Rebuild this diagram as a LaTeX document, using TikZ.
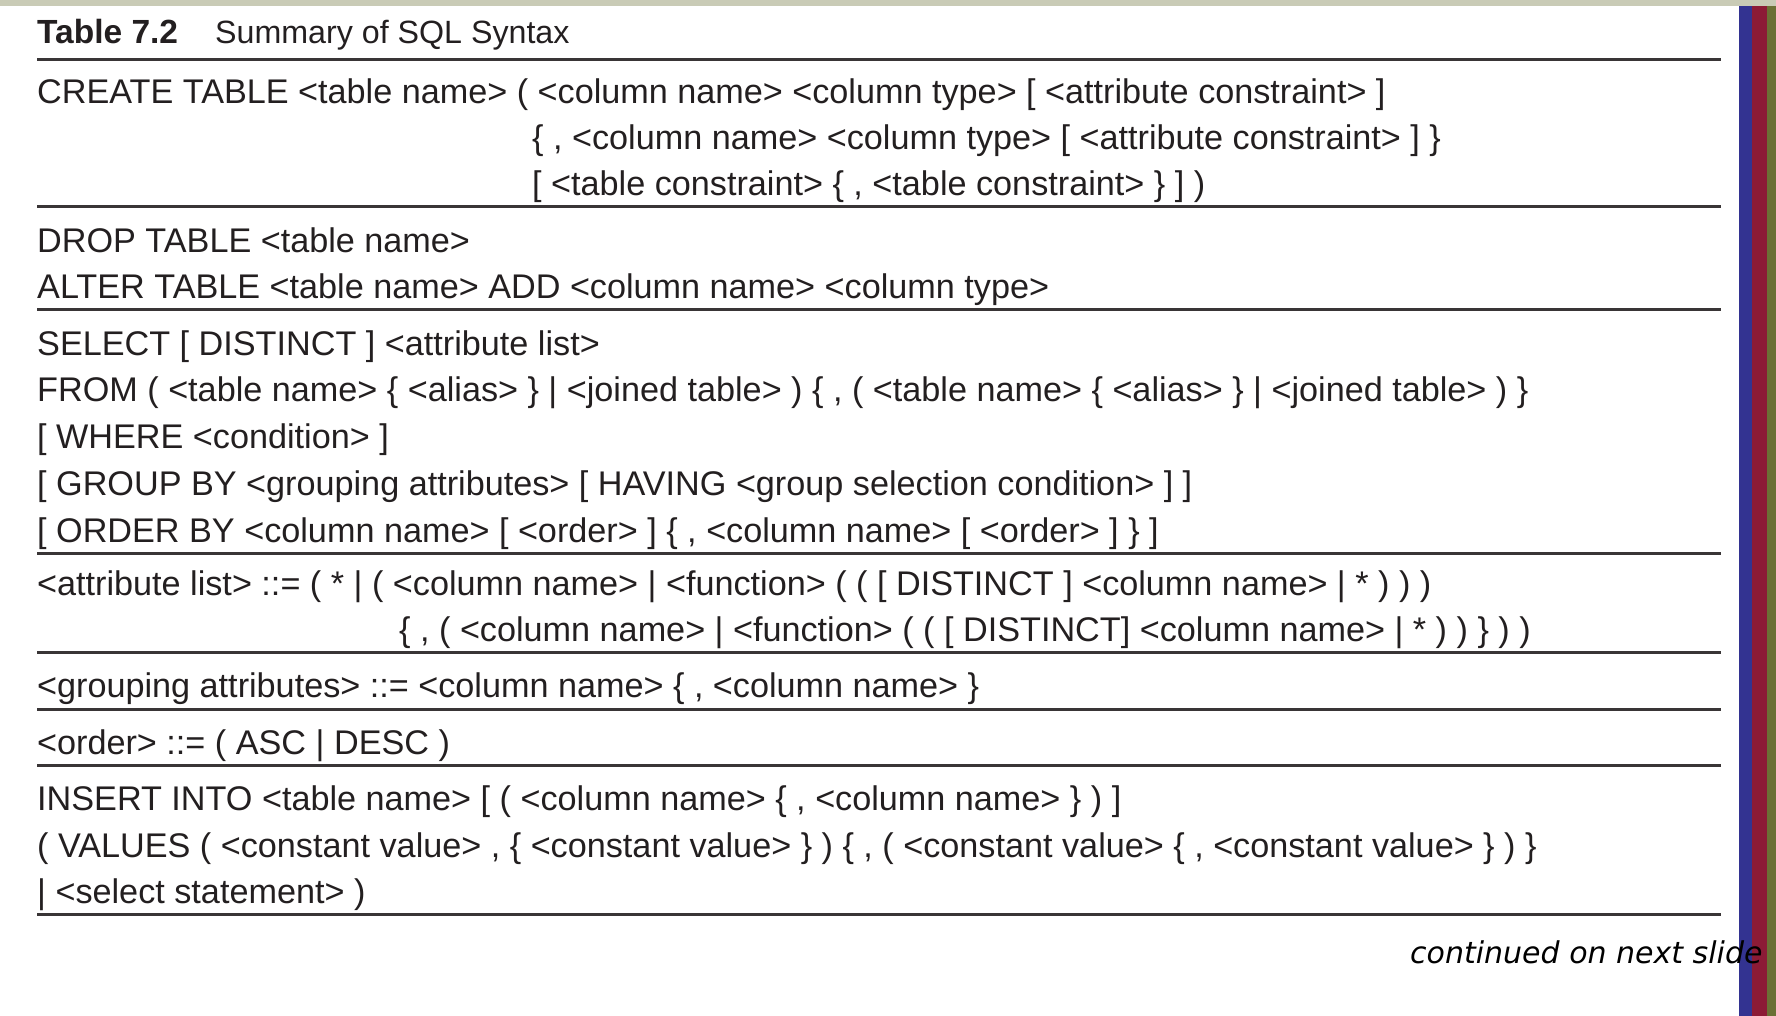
\documentclass[tikz,border=0pt]{standalone}
\usepackage{fontspec}
\setmainfont{Liberation Sans}
\newfontfamily\notefont{DejaVu Sans Oblique}
\usetikzlibrary{positioning}

\definecolor{bandgray}{HTML}{C9CBB6}
\definecolor{barblue}{HTML}{333391}
\definecolor{barred}{HTML}{8C1B36}
\definecolor{barolive}{HTML}{6B7035}
\definecolor{inkgray}{HTML}{231F20}

\begin{document}
\begin{tikzpicture}[x=1pt, y=-1pt, sqlrow/.style = {anchor=base west, inner sep=0pt, text=inkgray, font=\fontsize{34.2}{40}\selectfont}, tablerule/.style = {draw=inkgray!90, line width=3pt}]

    % slide frame
    \fill[white] (0,0) rectangle (1776,1016);
    \useasboundingbox (0,0) rectangle (1776,1016);
    \fill[bandgray] (0,0) rectangle (1776,6);
    \fill[barblue] (1739,6) rectangle (1752,1016);
    \fill[barred] (1752,6) rectangle (1767,1016);
    \fill[barolive] (1767,6) rectangle (1776,1016);

    % title
    \node[sqlrow, font=\fontsize{33.5}{38}\selectfont\bfseries] (title) at (37,44) {Table 7.2};
    \node[sqlrow, font=\fontsize{32.2}{38}\selectfont] (caption) at (215,44) {Summary of SQL Syntax};

    % rules
    \foreach \y in {60,207,309,553,652,709,765,914}
        \draw[tablerule] (37,\y) -- (1721,\y);

    % create / drop / alter
    \node[sqlrow] (create) at (37,104) {CREATE TABLE <table name> ( <column name> <column type> [ <attribute constraint> ]};
    \node[sqlrow] (createcol) at (532,150) {\{ , <column name> <column type> [ <attribute constraint> ] \}};
    \node[sqlrow] (createcons) at (532,196) {[ <table constraint> \{ , <table constraint> \} ] )};
    \node[sqlrow] (drop) at (37,252) {DROP TABLE <table name>};
    \node[sqlrow] (alter) at (37,298) {ALTER TABLE <table name> ADD <column name> <column type>};

    % select
    \node[sqlrow] (select) at (37,355) {SELECT [ DISTINCT ] <attribute list>};
    \node[sqlrow] (from) at (37,401) {FROM ( <table name> \{ <alias> \} | <joined table> ) \{ , ( <table name> \{ <alias> \} | <joined table> ) \}};
    \node[sqlrow] (where) at (37,448) {[ WHERE <condition> ]};
    \node[sqlrow] (group) at (37,495) {[ GROUP BY <grouping attributes> [ HAVING <group selection condition> ] ]};
    \node[sqlrow] (order) at (37,542) {[ ORDER BY <column name> [ <order> ] \{ , <column name> [ <order> ] \} ]};

    % grammar
    \node[sqlrow] (attr) at (37,595) {<attribute list> ::= ( * | ( <column name> | <function> ( ( [ DISTINCT ] <column name> | * ) ) )};
    \node[sqlrow] (attrmore) at (399,641) {\{ , ( <column name> | <function> ( ( [ DISTINCT] <column name> | * ) ) \} ) )};
    \node[sqlrow] (grouping) at (37,697) {<grouping attributes> ::= <column name> \{ , <column name> \}};
    \node[sqlrow] (orderdef) at (37,754) {<order> ::= ( ASC | DESC )};

    % insert
    \node[sqlrow] (insert) at (37,810) {INSERT INTO <table name> [ ( <column name> \{ , <column name> \} ) ]};
    \node[sqlrow] (values) at (37,857) {( VALUES ( <constant value> , \{ <constant value> \} ) \{ , ( <constant value> \{ , <constant value> \} ) \}};
    \node[sqlrow] (subselect) at (37,903) {| <select statement> )};

    % footer
    \node[anchor=base west, inner sep=0pt, font=\notefont\fontsize{30}{36}\selectfont] (cont) at (1410,963) {continued on next slide};

\end{tikzpicture}
\end{document}
